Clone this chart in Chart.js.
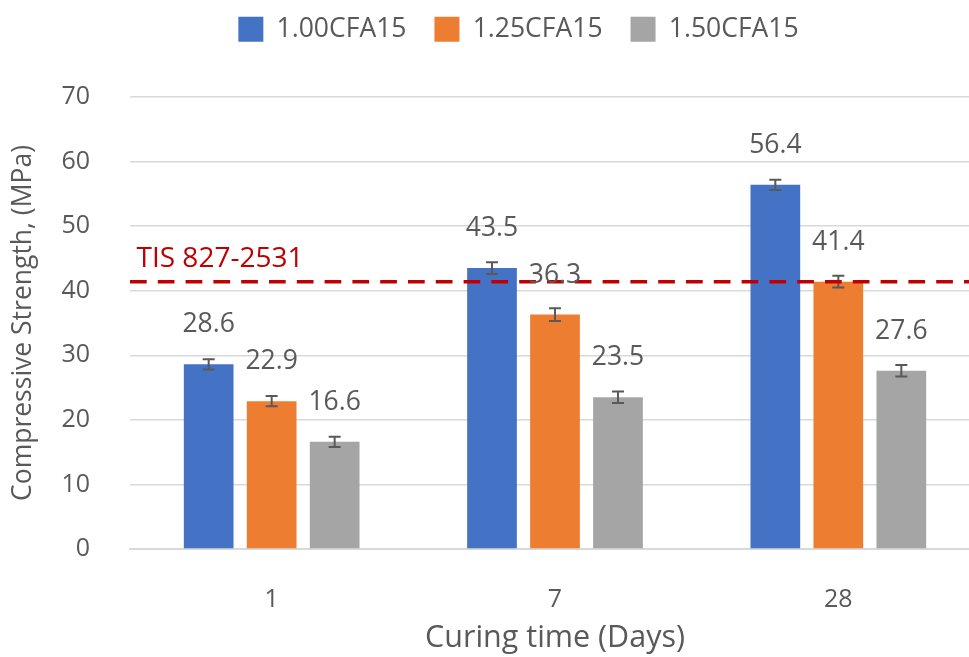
<!DOCTYPE html>
<html>
<head>
<meta charset="utf-8">
<script src="https://cdn.jsdelivr.net/npm/chart.js@4.4.1/dist/chart.umd.min.js"></script>
<style>
  html, body { margin: 0; padding: 0; background: #fff; overflow: hidden; }
  #wrap { position: relative; width: 1034px; height: 657px; }
</style>
</head>
<body>
<div id="wrap"><canvas id="c"></canvas></div>
<script>
// ---- data ----
const categories = ['1', '7', '28'];
const seriesNames = ['1.00CFA15', '1.25CFA15', '1.50CFA15'];
const values100 = [28.6, 43.5, 56.4];
const values125 = [22.9, 36.3, 41.4];
const values150 = [16.6, 23.5, 27.6];
const errors100 = [0.8, 0.9, 0.8];
const errors125 = [0.8, 1.0, 0.9];
const errors150 = [0.8, 0.9, 0.9];
const yTicks = [0, 10, 20, 30, 40, 50, 60, 70];
const thresholdValue = 41.4;
const thresholdLabel = 'TIS 827-2531';
const xTitle = 'Curing time (Days)';
const yTitle = 'Compressive Strength, (MPa)';

const colors = ['#4472C4', '#ED7D31', '#A5A5A5'];
const textColor = '#595959';
const FONT = '"Open Sans", "Noto Sans", sans-serif';

const allValues = [values100, values125, values150];
const allErrors = [errors100, errors125, errors150];

const datasets = seriesNames.map((name, i) => ({
  label: name,
  data: allValues[i],
  errors: allErrors[i],
  backgroundColor: colors[i],
  borderWidth: 0,
  categoryPercentage: 0.667,
  barPercentage: 0.789
}));

// move the legend box to where the reference has it
const legendPlace = {
  id: 'legendPlace',
  afterLayout(chart) {
    const lg = chart.legend;
    if (!lg) return;
    const dx = 28.5, dy = -44.5;
    lg.left += dx; lg.right += dx;
    lg.top += dy; lg.bottom += dy;
  }
};

const overlayPlugin = {
  id: 'overlay',
  afterDatasetsDraw(chart) {
    const ctx = chart.ctx;
    const y = chart.scales.y;
    const area = chart.chartArea;
    // error bars
    chart.data.datasets.forEach((ds, di) => {
      const meta = chart.getDatasetMeta(di);
      meta.data.forEach((el, i) => {
        const v = ds.data[i], e = ds.errors[i];
        const yt = y.getPixelForValue(v + e), yb = y.getPixelForValue(v - e);
        ctx.save();
        ctx.strokeStyle = '#595959';
        ctx.lineWidth = 2;
        ctx.beginPath();
        ctx.moveTo(el.x, yt); ctx.lineTo(el.x, yb);
        ctx.moveTo(el.x - 6, yt); ctx.lineTo(el.x + 6, yt);
        ctx.moveTo(el.x - 6, yb); ctx.lineTo(el.x + 6, yb);
        ctx.stroke();
        ctx.restore();
      });
    });
    // threshold line
    const ty = y.getPixelForValue(thresholdValue);
    ctx.save();
    ctx.strokeStyle = '#C00000';
    ctx.lineWidth = 3.5;
    ctx.setLineDash([16.7, 11.1]);
    ctx.beginPath();
    ctx.moveTo(area.left, ty);
    ctx.lineTo(area.right, ty);
    ctx.stroke();
    ctx.setLineDash([]);
    ctx.fillStyle = '#C00000';
    ctx.font = '28px ' + FONT;
    ctx.textAlign = 'left';
    ctx.textBaseline = 'alphabetic';
    ctx.fillText(thresholdLabel, area.left + 6.5, ty - 15);
    ctx.restore();
    // data labels
    chart.data.datasets.forEach((ds, di) => {
      const meta = chart.getDatasetMeta(di);
      meta.data.forEach((el, i) => {
        ctx.save();
        ctx.fillStyle = textColor;
        ctx.font = '26.5px ' + FONT;
        ctx.textAlign = 'center';
        ctx.textBaseline = 'alphabetic';
        ctx.fillText(ds.data[i].toFixed(1), el.x, el.y - 32);
        ctx.restore();
      });
    });
  }
};

new Chart(document.getElementById('c'), {
  type: 'bar',
  data: { labels: categories, datasets },
  plugins: [legendPlace, overlayPlugin],
  options: {
    responsive: true,
    maintainAspectRatio: false,
    animation: false,
    layout: { padding: { top: 32.5, right: 54, bottom: 0, left: 0 } },
    plugins: {
      legend: {
        position: 'top',
        labels: {
          color: textColor,
          font: { family: FONT, size: 26.5 },
          boxWidth: 25,
          boxHeight: 25,
          padding: 28
        }
      },
      tooltip: { enabled: false }
    },
    scales: {
      x: {
        afterFit(s) { s.height = 108; },
        grid: { display: false, drawTicks: false },
        border: { display: true, color: '#D9D9D9', width: 2 },
        ticks: { color: textColor, font: { family: FONT, size: 25 }, padding: 36 },
        title: { display: true, text: xTitle, color: textColor, font: { family: FONT, size: 30.5 }, padding: { top: 0, bottom: 0 } }
      },
      y: {
        min: 0, max: 70,
        afterFit(s) { s.width = 130; },
        afterBuildTicks(s) { s.ticks = yTicks.map(v => ({ value: v })); },
        grid: { color: '#D9D9D9', lineWidth: 1.5, drawTicks: false },
        border: { display: false },
        ticks: { color: textColor, font: { family: FONT, size: 25 }, padding: 40 },
        title: { display: true, text: yTitle, color: textColor, font: { family: FONT, size: 26.5 }, padding: { top: 8, bottom: 0 } }
      }
    }
  }
});
</script>
</body>
</html>
